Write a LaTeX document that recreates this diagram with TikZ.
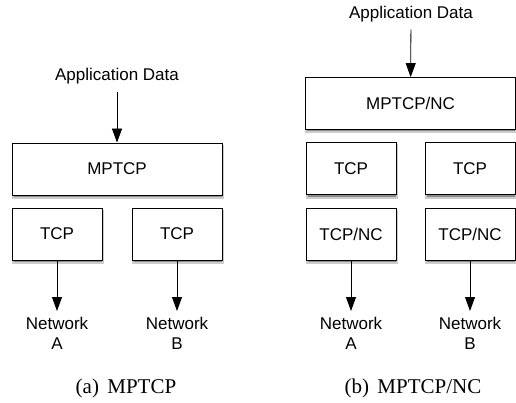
\documentclass[tikz,border=0pt]{standalone}
\usepackage{fontspec}
\setmainfont{Liberation Serif}
\setsansfont{Liberation Sans}
\usetikzlibrary{arrows.meta, positioning}

\begin{document}
\begin{tikzpicture}[x=1pt, y=1pt,
    shadowbox/.style={fill=black!45, draw=black!20, line width=2pt, minimum width=90pt, minimum height=52pt, inner sep=0pt},
    layer/.style={draw=black, line width=0.8pt, fill=white,
      minimum width=90pt, minimum height=52pt, font=\sffamily\fontsize{17}{20}\selectfont},
    txt/.style={font=\sffamily\fontsize{17}{20}\selectfont, inner sep=0pt},
    netLabel/.style={txt, align=center, anchor=north},
    arr/.style={line width=0.8pt, -{Triangle[length=14pt, width=10pt]}},
    caption/.style={font=\fontsize{21}{24}\selectfont, anchor=base}]
  \useasboundingbox (0,0) rectangle (516,402);

  % shadows first, boxes on top
  \node[shadowbox, minimum width=210pt] (shL) at (117.8,230) {};
  \foreach \x/\y in {57.8/165, 177.8/165, 351.8/230.5, 470.8/230.5, 351.8/165, 470.8/165}
    \node[shadowbox] at (\x,\y) {};
  \node[shadowbox, minimum width=210pt] (shR) at (411.3,295.5) {};

  % (a) MPTCP
  \node[txt, anchor=base] (appL) at (117,321) {Application Data};
  \node[layer, minimum width=210pt] (mpL) at (117,233) {MPTCP};
  \node[layer] (tcpLA) at (57,168) {TCP};
  \node[layer] (tcpLB) at (177,168) {TCP};
  \node[netLabel] (netLA) at (57,85) {Network\\A};
  \node[netLabel] (netLB) at (177,85) {Network\\B};
  \draw[arr, shorten <=7pt] (appL) -- (mpL);
  \draw[arr, shorten >=6pt] (tcpLA) -- (netLA);
  \draw[arr, shorten >=6pt] (tcpLB) -- (netLB);
  \node[caption] (capA) at (126,9) {(a)\hspace{0.4em}MPTCP};

  % (b) MPTCP/NC
  \node[txt, anchor=base] (appR) at (411,383) {Application Data};
  \node[layer, minimum width=210pt] (mpR) at (410.5,298.5) {MPTCP/NC};
  \node[layer] (tcpRA) at (351,233.5) {TCP};
  \node[layer] (tcpRB) at (470,233.5) {TCP};
  \node[layer] (ncRA) at (351,168) {TCP/NC};
  \node[layer] (ncRB) at (470,168) {TCP/NC};
  \node[netLabel] (netRA) at (351,85) {Network\\A};
  \node[netLabel] (netRB) at (470,85) {Network\\B};
  \draw[arr, shorten <=7pt] (appR) -- (mpR);
  \draw[arr, shorten >=6pt] (ncRA) -- (netRA);
  \draw[arr, shorten >=6pt] (ncRB) -- (netRB);
  \node[caption] (capB) at (413,9) {(b)\hspace{0.4em}MPTCP/NC};
\end{tikzpicture}
\end{document}
